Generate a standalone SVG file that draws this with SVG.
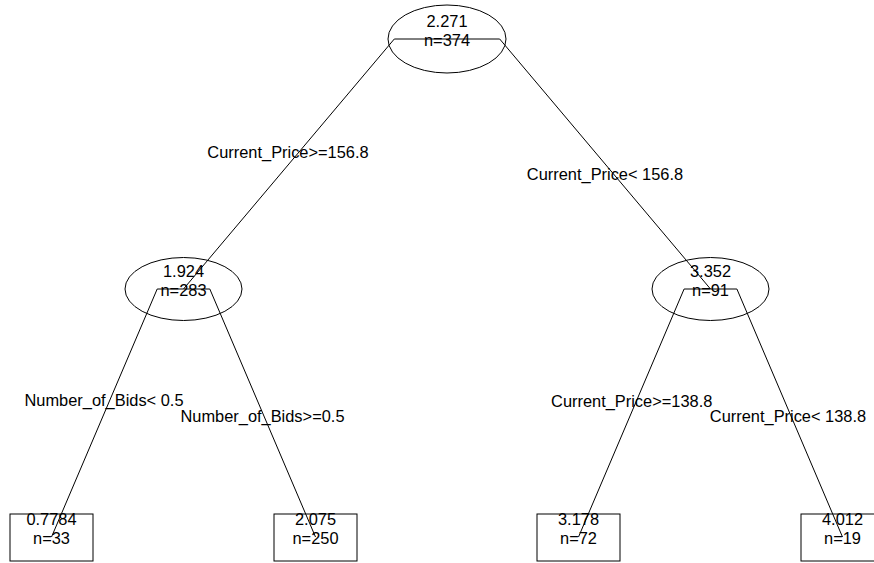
<svg xmlns="http://www.w3.org/2000/svg" width="874" height="563" viewBox="0 0 874 563">
<style>
text{font-family:"Liberation Sans",Arial,sans-serif;font-size:16.4px;fill:#000;text-anchor:middle}
.s{fill:none;stroke:#000;stroke-width:1}
.n{fill:#fff;stroke:#000;stroke-width:1}
</style>
<rect width="874" height="563" fill="#fff"/>
<g id="nodes-shapes">
<g id="n1"><ellipse class="n" cx="447" cy="39" rx="59" ry="34"/></g>
<g id="n2"><ellipse class="n" cx="183.5" cy="289" rx="58.5" ry="31.5"/></g>
<g id="n3"><ellipse class="n" cx="710.5" cy="289" rx="58.5" ry="31.5"/></g>
<g id="n4"><rect class="n" x="10" y="514" width="83" height="47"/></g>
<g id="n5"><rect class="n" x="274" y="514" width="83" height="47"/></g>
<g id="n6"><rect class="n" x="537" y="514" width="83" height="47"/></g>
<g id="n7"><rect class="n" x="801" y="514" width="83" height="47"/></g>
</g>
<g id="connectors">
<polyline class="s" points="447,39 394.3,39 183.5,289"/>
<polyline class="s" points="447,39 499.7,39 710.5,289"/>
<polyline class="s" points="183.5,289 157.2,289 51.5,537"/>
<polyline class="s" points="183.5,289 209.8,289 315.5,537"/>
<polyline class="s" points="710.5,289 684.1,289 578.5,537"/>
<polyline class="s" points="710.5,289 736.9,289 842.5,537"/>
</g>
<g id="node-labels">
<text x="447" y="27">2.271</text><text x="447" y="46">n=374</text>
<text x="183.5" y="277">1.924</text><text x="183.5" y="296">n=283</text>
<text x="710.5" y="277">3.352</text><text x="710.5" y="296">n=91</text>
<text x="51.5" y="525">0.7784</text><text x="51.5" y="544">n=33</text>
<text x="315.5" y="525">2.075</text><text x="315.5" y="544">n=250</text>
<text x="578.5" y="525">3.178</text><text x="578.5" y="544">n=72</text>
<text x="842.5" y="525">4.012</text><text x="842.5" y="544">n=19</text>
</g>
<g id="split-labels">
<text x="288" y="158">Current_Price&gt;=156.8</text>
<text x="605" y="180">Current_Price&lt; 156.8</text>
<text x="104" y="406">Number_of_Bids&lt; 0.5</text>
<text x="262.5" y="422">Number_of_Bids&gt;=0.5</text>
<text x="631.7" y="407">Current_Price&gt;=138.8</text>
<text x="788" y="422">Current_Price&lt; 138.8</text>
</g>
</svg>
